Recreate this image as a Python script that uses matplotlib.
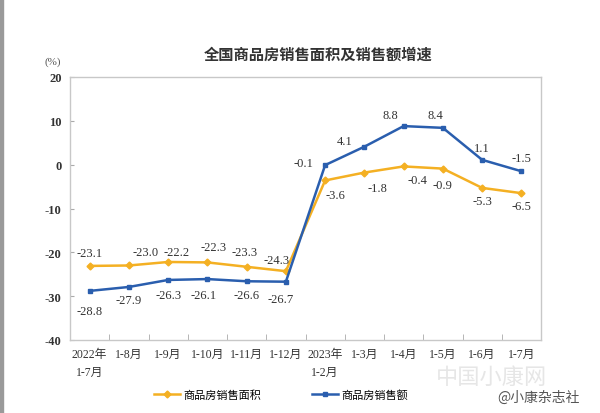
import numpy as np
import matplotlib.pyplot as plt
from matplotlib.patches import Rectangle

# data
months = ['2022年\n1-7月', '1-8月', '1-9月', '1-10月', '1-11月', '1-12月',
          '2023年\n1-2月', '1-3月', '1-4月', '1-5月', '1-6月', '1-7月']
area = [-23.1, -23.0, -22.2, -22.3, -23.3, -24.3, -3.6, -1.8, -0.4, -0.9, -5.3, -6.5]
sales = [-28.8, -27.9, -26.3, -26.1, -26.6, -26.7, -0.1, 4.1, 8.8, 8.4, 1.1, -1.5]

# label offsets in pixels (dx, dy)
area_off = [(0, 13), (17, 13), (8, 10), (6, 15), (-2, 15), (-9, 11),
            (10, -15), (13, -15), (14, -14), (0, -16), (0, -13), (0, -13)]
sales_off = [(0, -20), (0, -13), (0, -15), (-4, -16), (0, -14), (-5, -17),
             (-22, 2), (-20, 6), (-13, 11), (-8, 13), (0, 12), (0, 13)]

orange = '#F4B023'
blue = '#2A5EAE'
num_font = ['Liberation Serif', 'Noto Sans CJK SC']

plt.rcParams['font.family'] = ['Liberation Serif', 'Noto Sans CJK SC', 'DejaVu Sans']
plt.rcParams['axes.unicode_minus'] = False

fig = plt.figure(figsize=(6, 4.14), dpi=100)
ax = fig.add_axes([70 / 600, 1 - 341 / 414, 471 / 600, 263 / 414])

x = np.arange(len(months))
ax.plot(x, area, color=orange, lw=1.8, marker='D', ms=3.5, label='商品房销售面积')
ax.plot(x, sales, color=blue, lw=1.8, marker='s', ms=3.5, label='商品房销售额')

for i in range(len(x)):
    ax.annotate(f'{area[i]:.1f}', (x[i], area[i]), xytext=area_off[i],
                textcoords='offset pixels', ha='center', va='center',
                fontsize=9, color='#333333', family=num_font)
    ax.annotate(f'{sales[i]:.1f}', (x[i], sales[i]), xytext=sales_off[i],
                textcoords='offset pixels', ha='center', va='center',
                fontsize=9, color='#333333', family=num_font)

ax.set_xlim(-0.5, len(months) - 0.5)
ax.set_ylim(-40, 20)
ax.set_yticks(np.arange(-40, 21, 10))
ax.set_xticks(x)
ax.set_xticklabels(months, fontsize=8.5, color='#333333', linespacing=1.6)
ax.set_xticks(np.arange(0.5, len(months) - 0.5, 1), minor=True)
ax.tick_params(axis='x', which='major', length=0, pad=6)
ax.tick_params(axis='x', which='minor', direction='in', length=4, color='#aaaaaa')
ax.tick_params(axis='y', direction='in', length=3, color='#aaaaaa', pad=6,
               labelsize=9, labelcolor='#333333')
for lbl in ax.get_yticklabels():
    lbl.set_fontweight('bold')
for s in ax.spines.values():
    s.set_color('#c8c8c8')
    s.set_linewidth(1)

fig.text(318 / 600, 1 - 55 / 414, '全国商品房销售面积及销售额增速', ha='center', va='center',
         fontsize=11, fontweight='bold', family='Noto Sans CJK SC', color='#333333')
fig.text(53 / 600, 1 - 62 / 414, '(%)', ha='center', va='center', fontsize=8,
         color='#555555', family=num_font)

fig.legend(loc='center', bbox_to_anchor=(281 / 600, 1 - 396 / 414), ncol=2, frameon=False,
           handlelength=2.4, columnspacing=4.5, handletextpad=0.3,
           prop={'family': 'Noto Sans CJK SC', 'size': 8})

# watermark
fig.text(492 / 600, 1 - 377 / 414, '中国小康网', ha='center', va='center', fontsize=16,
         color='#e6e6e6', family='Noto Sans CJK SC')
fig.text(538 / 600, 1 - 398 / 414, '@小康杂志社', ha='center', va='center', fontsize=10,
         color='#555555', family='Noto Sans CJK SC')

fig.patches.append(Rectangle((0, 0), 3 / 600, 1, transform=fig.transFigure,
                             color='#9a9a9a', zorder=5))

fig.savefig('out.png', dpi=100)
